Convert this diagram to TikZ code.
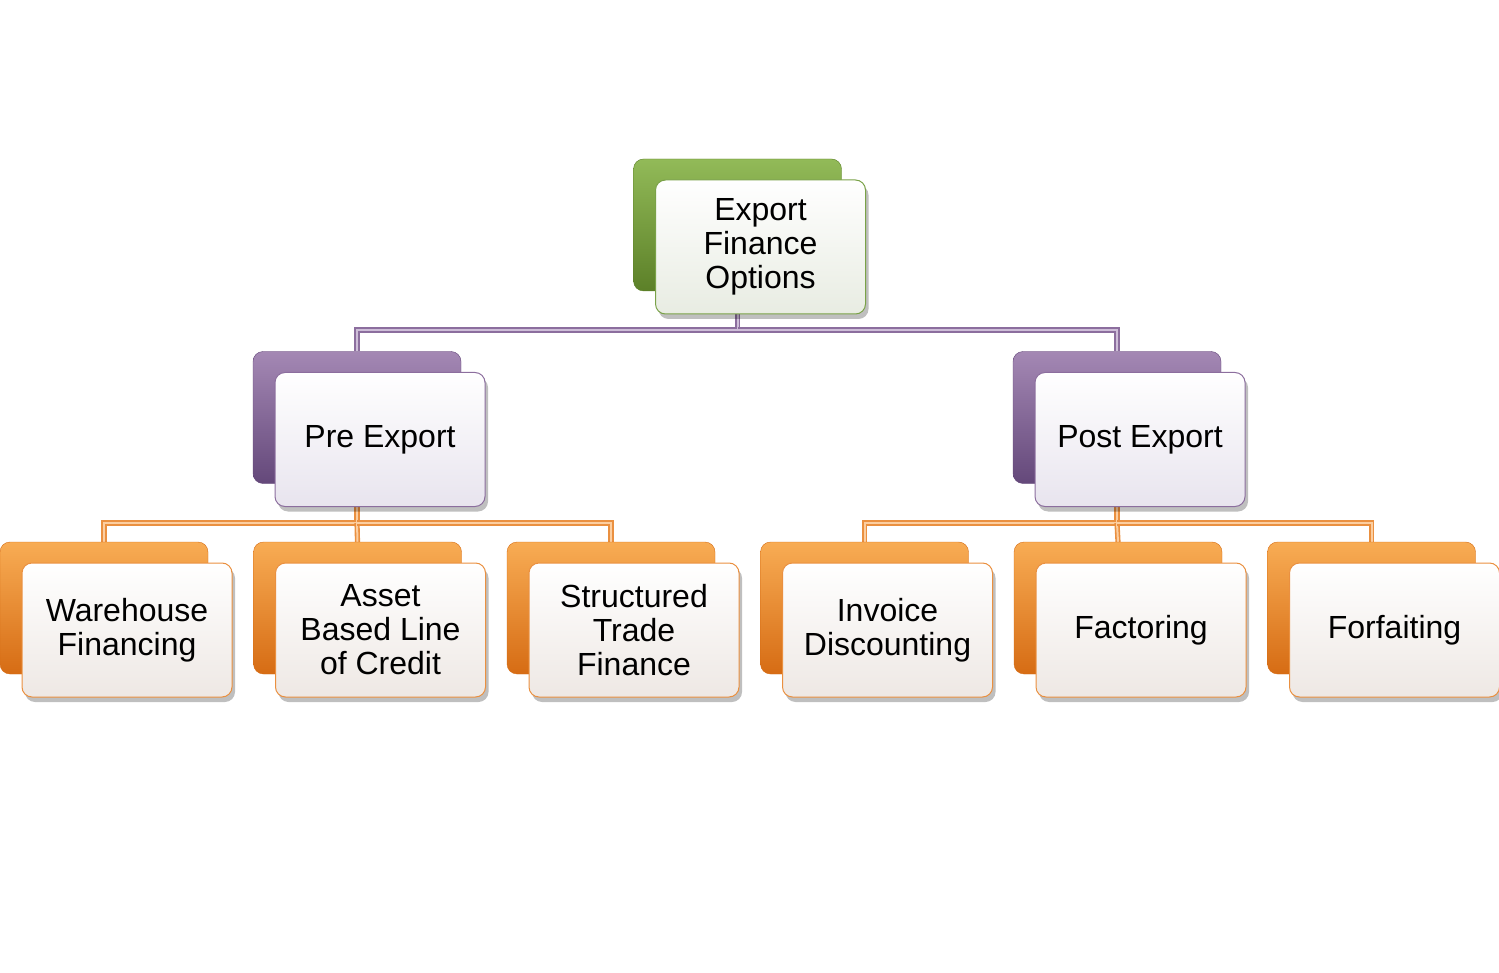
\documentclass[tikz,border=0pt]{standalone}
\usepackage{fontspec}
\setmainfont{Liberation Sans}
\usetikzlibrary{positioning, shadows, calc}
\definecolor{grntop}{RGB}{146,186,88}
\definecolor{grnbot}{RGB}{92,128,40}
\definecolor{grnline}{RGB}{122,162,72}
\definecolor{grnface}{RGB}{232,236,226}
\definecolor{prptop}{RGB}{164,136,180}
\definecolor{prpbot}{RGB}{100,72,122}
\definecolor{prpline}{RGB}{140,110,158}
\definecolor{prpface}{RGB}{232,228,238}
\definecolor{orgtop}{RGB}{248,172,84}
\definecolor{orgbot}{RGB}{214,108,20}
\definecolor{orgline}{RGB}{234,144,64}
\definecolor{orgface}{RGB}{238,232,228}
\definecolor{prpcore}{RGB}{206,190,216}
\definecolor{orgcore}{RGB}{252,206,160}
\pgfdeclarelayer{background}
\pgfsetlayers{background,main}

\begin{document}
\begin{tikzpicture}[x=1pt, y=1pt, node distance=45.5pt,
  backbox/.style={rounded corners=10pt, minimum width=208pt, minimum height=132pt,
    inner sep=0pt, outer sep=0pt, top color=#1top, bottom color=#1bot, draw=#1bot},
  frontbox/.style={rounded corners=10pt, minimum width=210pt, minimum height=134pt,
    inner sep=0pt, outer sep=0pt, draw=#1line, line width=1pt,
    top color=white, bottom color=#1face,
    drop shadow={shadow xshift=3pt, shadow yshift=-5pt, opacity=0.25, fill=black},
    align=center, font=\fontsize{32}{34}\selectfont},
  prplink/.style={draw=prpline, double=prpcore, line width=1.6pt, double distance=2pt},
  orglink/.style={draw=orgline, double=orgcore, line width=1.6pt, double distance=2pt}]
\useasboundingbox (0,0) rectangle (1499,-973);

% Root
\node[backbox=grn] (rootb) at (737.5,-225) {};
\node[frontbox=grn] (root) at ([shift={(23,-22)}]rootb.center) {Export\\Finance\\Options};

% Pre / Post export
\node[backbox=prp] (preb) at (357,-417.5) {};
\node[frontbox=prp] (pre) at ([shift={(23,-22)}]preb.center) {Pre Export};

\node[backbox=prp] (postb) at (1117,-417.5) {};
\node[frontbox=prp] (post) at ([shift={(23,-22)}]postb.center) {Post Export};

% Pre export options
\node[backbox=org] (whb) at (104,-608) {};
\node[frontbox=org] (wh) at ([shift={(23,-22)}]whb.center) {Warehouse\\Financing};

\node[backbox=org, right=of whb] (ablb) {};
\node[frontbox=org] (abl) at ([shift={(23,-22)}]ablb.center) {Asset\\Based Line\\of Credit};

\node[backbox=org, right=of ablb] (stfb) {};
\node[frontbox=org] (stf) at ([shift={(23,-22)}]stfb.center) {Structured\\Trade\\Finance};

% Post export options
\node[backbox=org, right=of stfb] (invb) {};
\node[frontbox=org] (inv) at ([shift={(23,-22)}]invb.center) {Invoice\\Discounting};

\node[backbox=org, right=of invb] (facb) {};
\node[frontbox=org] (fac) at ([shift={(23,-22)}]facb.center) {Factoring};

\node[backbox=org, right=of facb] (forb) {};
\node[frontbox=org] (for) at ([shift={(23,-22)}]forb.center) {Forfaiting};

% Connectors
\begin{pgfonlayer}{background}
\coordinate (rootbus) at ($(rootb.center)+(0,-105)$);
\draw[prplink] (rootb.center) -- (rootbus) -| (preb.north);
\draw[prplink] (rootbus) -| (postb.north);

\coordinate (prebus) at ($(preb.center)+(0,-105.5)$);
\draw[orglink] (preb.center) -- (prebus) -| (whb.north);
\draw[orglink] (prebus) -- (ablb.north);
\draw[orglink] (prebus) -| (stfb.north);

\coordinate (postbus) at ($(postb.center)+(0,-105.5)$);
\draw[orglink] (postb.center) -- (postbus) -| (invb.north);
\draw[orglink] (postbus) -- (facb.north);
\draw[orglink] (postbus) -| (forb.north);
\end{pgfonlayer}

\end{tikzpicture}
\end{document}
